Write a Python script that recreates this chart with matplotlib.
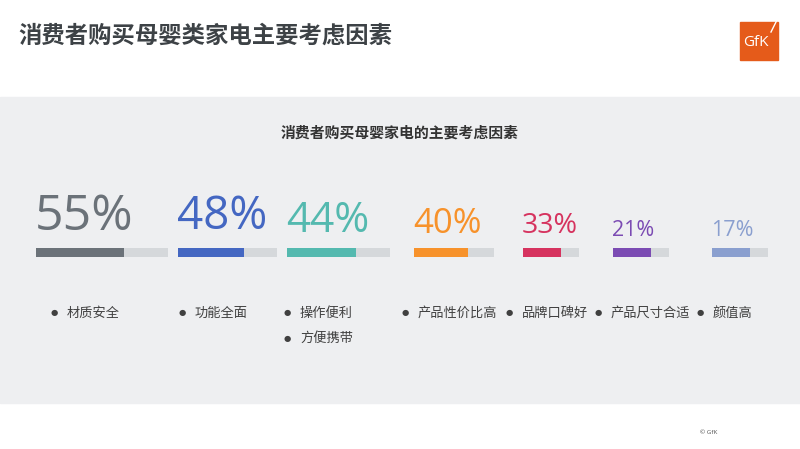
import matplotlib.pyplot as plt
from matplotlib.patches import Rectangle

# 数据
labels = ["材质安全", "功能全面", "操作便利", "产品性价比高", "品牌口碑好", "产品尺寸合适", "颜值高"]
values = [55, 48, 44, 40, 33, 21, 17]
colors = ["#6b7279", "#4467c2", "#54b9af", "#f7922b", "#d6335f", "#7b4bb3", "#8a9fcf"]
extra_label = "方便携带"

title = "消费者购买母婴类家电主要考虑因素"
subtitle = "消费者购买母婴家电的主要考虑因素"

# 布局 (像素)
bar_left = [36, 178, 287, 414, 523, 613, 712]
track_w = [132, 99, 103, 80, 56, 56, 56]
pct_size = [36, 33, 30.5, 25, 20.5, 15.5, 15.5]
pct_base = [230, 229, 232, 233, 233, 236, 236]
fill_frac = 0.67
bullet_x = [54, 182, 287, 405, 509, 598, 700]

CJK = ["Noto Sans CJK SC", "DejaVu Sans"]
NUM = ["Open Sans", "DejaVu Sans"]

fig = plt.figure(figsize=(8, 4.49), dpi=100)
ax = fig.add_axes([0, 0, 1, 1])
ax.set_xlim(0, 800)
ax.set_ylim(449, 0)
ax.axis("off")

# 灰色背景带
ax.add_patch(Rectangle((0, 97), 800, 306, color="#eeeff1", zorder=0))

# 标题
ax.text(18, 36, title, fontsize=16.8, fontweight="bold", color="#3d4246",
        family=CJK, va="center", ha="left")
ax.text(400, 133, subtitle, fontsize=10.7, fontweight="bold", color="#333333",
        family=CJK, va="center", ha="center")

# GfK 标志
ax.add_patch(Rectangle((740, 22), 38, 38, color="#e55b1a", zorder=2))
ax.text(756, 43, "GfK", fontsize=11, color="white", family=NUM,
        ha="center", va="center", zorder=3)
ax.plot([771, 777], [32, 20], color="white", lw=1, zorder=3)

# 百分比与进度条
for i in range(len(values)):
    ax.barh(252.5, track_w[i], left=bar_left[i], height=9, color="#d5d8db", zorder=2)
    ax.barh(252.5, track_w[i] * fill_frac, left=bar_left[i], height=9,
            color=colors[i], zorder=3)
    ax.text(bar_left[i] - 1, pct_base[i], f"{values[i]}%", fontsize=pct_size[i],
            color=colors[i], family=NUM, ha="left", va="baseline")

# 图例项目
for i in range(len(labels)):
    ax.text(bullet_x[i], 313, "●", fontsize=6, color="#404040",
            family=["DejaVu Sans"], ha="center", va="center")
    ax.text(bullet_x[i] + 13, 313, labels[i], fontsize=9.5, color="#404040",
            family=CJK, ha="left", va="center")
ax.text(bullet_x[2], 338, "●", fontsize=6, color="#404040",
        family=["DejaVu Sans"], ha="center", va="center")
ax.text(bullet_x[2] + 13, 338, extra_label, fontsize=9.5, color="#404040",
        family=CJK, ha="left", va="center")

ax.text(709, 433, "© GfK", fontsize=4.5, color="#555555", family=NUM,
        ha="center", va="center")

fig.savefig("out.png", dpi=100)
